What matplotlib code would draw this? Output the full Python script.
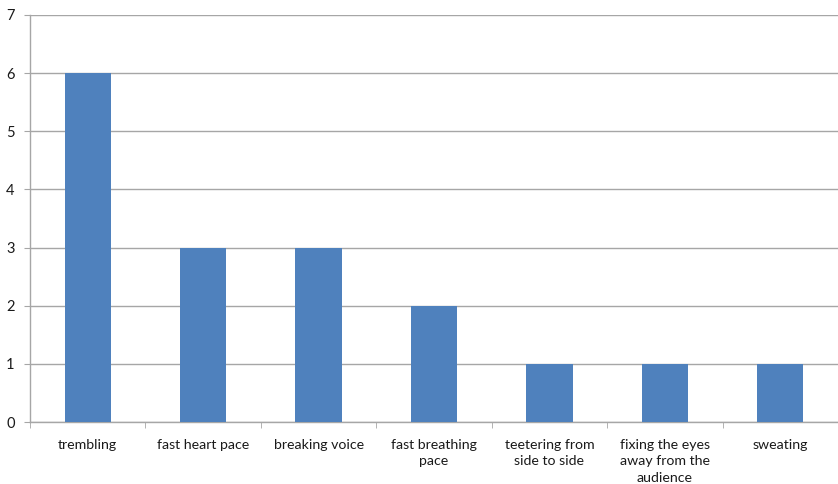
import matplotlib
matplotlib.use("Agg")
import matplotlib.pyplot as plt
from matplotlib.ticker import FixedLocator

categories = ["trembling", "fast heart pace", "breaking voice", "fast breathing\npace",
              "teetering from\nside to side", "fixing the eyes\naway from the\naudience", "sweating"]
values = [6, 3, 3, 2, 1, 1, 1]
yticks = [0, 1, 2, 3, 4, 5, 6, 7]

plt.rcParams['font.family'] = ['Lato', 'DejaVu Sans']

fig = plt.figure(figsize=(8.38, 4.84), dpi=100)
ax = fig.add_axes([30/838, 1-422/484, 1-30/838, (422-15)/484])

x = list(range(len(categories)))
ax.bar(x, values, width=0.4, color='#4F81BD', zorder=3)

ax.set_xlim(-0.5, len(categories)-0.5)
ax.set_ylim(0, 7)
ax.set_yticks(yticks)
ax.yaxis.grid(True, color='#a6a6a6', linewidth=1, zorder=0)
ax.set_xticks(x)
ax.set_xticklabels(categories, fontsize=10.2, color='#1a1a1a', linespacing=1.45)
ax.tick_params(axis='x', length=0, pad=12)
ax.xaxis.set_minor_locator(FixedLocator([i - 0.5 for i in range(len(categories)+1)]))
ax.tick_params(axis='x', which='minor', length=4, color='#a6a6a6', direction='out')
ax.tick_params(axis='y', length=4, color='#a6a6a6', labelsize=10.5, labelcolor='#1a1a1a', pad=7)

for s in ['top', 'right']:
    ax.spines[s].set_visible(False)
for s in ['left', 'bottom']:
    ax.spines[s].set_color('#a6a6a6')
    ax.spines[s].set_linewidth(1)

fig.savefig("out.png", dpi=100)
